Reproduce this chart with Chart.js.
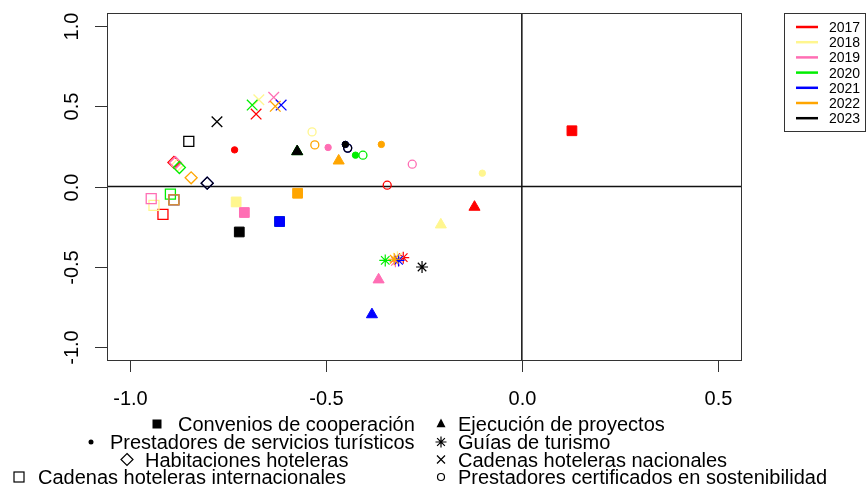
<!DOCTYPE html>
<html><head><meta charset="utf-8">
<script src="https://cdn.jsdelivr.net/npm/chart.js@4/dist/chart.umd.min.js"></script>
<style>html,body{margin:0;padding:0;background:#fff;overflow:hidden}#wrap{position:relative;width:866px;height:489px}</style>
</head><body><div id="wrap"><canvas id="c" width="866" height="489"></canvas></div>
<script>
// ---- data ----
const years = ['2017','2018','2019','2020','2021','2022','2023'];
const variables = ['Convenios de cooperación','Ejecución de proyectos','Prestadores de servicios turísticos','Guías de turismo','Habitaciones hoteleras','Cadenas hoteleras nacionales','Cadenas hoteleras internacionales','Prestadores certificados en sostenibilidad'];
// each: [x, y] per year 2017..2023
const convenios       = [[0.128,0.347],[-0.730,-0.096],[-0.709,-0.162],[-0.619,-0.218],[-0.619,-0.218],[-0.573,-0.042],[-0.722,-0.283]];
const ejecucion       = [[-0.121,-0.128],[-0.207,-0.238],[-0.366,-0.580],[-0.574,0.218],[-0.383,-0.797],[-0.468,0.160],[-0.574,0.218]];
const prestadores     = [[-0.734,0.228],[-0.101,0.083],[-0.495,0.243],[-0.425,0.195],[-0.451,0.262],[-0.359,0.262],[-0.451,0.262]];
const guias           = [[-0.303,-0.443],[-0.318,-0.440],[-0.323,-0.466],[-0.349,-0.460],[-0.315,-0.460],[-0.326,-0.453],[-0.255,-0.501]];
const habitaciones    = [[-0.889,0.150],[-0.880,0.133],[-0.885,0.148],[-0.875,0.118],[-0.804,0.021],[-0.845,0.054],[-0.804,0.021]];
const nacionales      = [[-0.679,0.451],[-0.672,0.540],[-0.634,0.555],[-0.689,0.507],[-0.615,0.507],[-0.630,0.499],[-0.779,0.403]];
const internacionales = [[-0.917,-0.173],[-0.940,-0.117],[-0.947,-0.075],[-0.898,-0.048],[-0.889,-0.083],[-0.889,-0.083],[-0.851,0.281]];
const certificados    = [[-0.344,0.008],[-0.536,0.340],[-0.280,0.139],[-0.406,0.195],[-0.445,0.239],[-0.529,0.259],[-0.445,0.239]];
const xTicks = [-1.0,-0.5,0.0,0.5];
const xTickLabels = ['-1.0','-0.5','0.0','0.5'];
const yTicks = [-1.0,-0.5,0.0,0.5,1.0];
const yTickLabels = ['-1.0','-0.5','0.0','0.5','1.0'];

// ---- styles ----
const yearColors = ['#FF0000','#FFF68F','#FF6EB4','#00EE00','#0000FF','#FFA500','#000000'];
const seriesByVar = [convenios, ejecucion, prestadores, guias, habitaciones, nacionales, internacionales, certificados];
const varStyle = [
  {ps:'rect', r:6.9, fill:true, bw:1},
  {ps:'triangle', r:6.4, fill:true, bw:1},
  {ps:'circle', r:3.2, fill:true, bw:1},
  {ps:'star', r:6, fill:false, bw:1.2},
  {ps:'rectRot', r:6, fill:false, bw:1.3},
  {ps:'crossRot', r:7.5, fill:false, bw:1.3},
  {ps:'rect', r:7.07, fill:false, bw:1.3},
  {ps:'circle', r:4, fill:false, bw:1.3}
];
const FONT = '"Liberation Sans", Arial, Helvetica, sans-serif';

const datasets = years.map((yr, yi) => ({
  label: yr,
  order: years.length - 1 - yi,
  data: seriesByVar.map(s => ({x: s[yi][0], y: s[yi][1]})),
  pointStyle: varStyle.map(v => v.ps),
  pointRadius: varStyle.map(v => v.r),
  pointBorderWidth: varStyle.map(v => v.bw),
  pointBackgroundColor: varStyle.map(v => v.fill ? yearColors[yi] : 'rgba(0,0,0,0)'),
  pointBorderColor: yearColors[yi],
  showLine: false
}));

function sym(ctx, kind, x, y, s, color) {
  ctx.save();
  ctx.strokeStyle = color; ctx.fillStyle = color; ctx.lineWidth = 1.2;
  ctx.beginPath();
  if (kind === 'fsquare') { ctx.fillRect(x - s/2, y - s/2, s, s); }
  else if (kind === 'ftri') { ctx.moveTo(x, y - s*0.6); ctx.lineTo(x + s/2, y + s*0.35); ctx.lineTo(x - s/2, y + s*0.35); ctx.closePath(); ctx.fill(); }
  else if (kind === 'dot') { ctx.arc(x, y, s/2, 0, Math.PI*2); ctx.fill(); }
  else if (kind === 'star') { const a = s/2, d = a*0.707; ctx.moveTo(x-a,y); ctx.lineTo(x+a,y); ctx.moveTo(x,y-a); ctx.lineTo(x,y+a); ctx.moveTo(x-d,y-d); ctx.lineTo(x+d,y+d); ctx.moveTo(x-d,y+d); ctx.lineTo(x+d,y-d); ctx.stroke(); }
  else if (kind === 'diamond') { const a = s/2; ctx.moveTo(x,y-a); ctx.lineTo(x+a,y); ctx.lineTo(x,y+a); ctx.lineTo(x-a,y); ctx.closePath(); ctx.stroke(); }
  else if (kind === 'cross') { const a = s/2; ctx.moveTo(x-a,y-a); ctx.lineTo(x+a,y+a); ctx.moveTo(x-a,y+a); ctx.lineTo(x+a,y-a); ctx.stroke(); }
  else if (kind === 'osquare') { ctx.strokeRect(x - s/2, y - s/2, s, s); }
  else if (kind === 'ocircle') { ctx.arc(x, y, s/2, 0, Math.PI*2); ctx.stroke(); }
  ctx.restore();
}

const legendSyms = [
  {k:'fsquare', s:9, sx:157, tx:178, row:0},
  {k:'ftri', s:9, sx:441, tx:458, row:0},
  {k:'dot', s:5, sx:91, tx:110, row:1},
  {k:'star', s:11, sx:441, tx:458, row:1},
  {k:'diamond', s:12, sx:127, tx:145, row:2},
  {k:'cross', s:8, sx:441, tx:458, row:2},
  {k:'osquare', s:10, sx:19, tx:38, row:3},
  {k:'ocircle', s:7, sx:441, tx:458, row:3}
];
const rowBaselines = [431, 449, 466.5, 484];

const decor = {
  id: 'decor',
  beforeDatasetsDraw(chart) {
    const {ctx, chartArea: a, scales: {x, y}} = chart;
    ctx.save();
    ctx.strokeStyle = '#111'; ctx.lineWidth = 1.5;
    const x0 = x.getPixelForValue(0), y0 = y.getPixelForValue(0);
    ctx.beginPath();
    ctx.moveTo(a.left, y0); ctx.lineTo(a.right, y0);
    ctx.moveTo(x0, a.top); ctx.lineTo(x0, a.bottom);
    ctx.stroke();
    ctx.restore();
  },
  afterDraw(chart) {
    const {ctx, chartArea: a, scales: {x, y}} = chart;
    ctx.save();
    // box
    ctx.strokeStyle = '#333'; ctx.lineWidth = 1;
    ctx.strokeRect(Math.round(a.left) + 0.5, Math.round(a.top) + 0.5, Math.round(a.right - a.left), Math.round(a.bottom - a.top));
    // x ticks
    ctx.fillStyle = '#000';
    ctx.font = '20px ' + FONT;
    ctx.textAlign = 'center'; ctx.textBaseline = 'alphabetic';
    xTicks.forEach((v, i) => {
      const px = Math.round(x.getPixelForValue(v)) + 0.5;
      ctx.beginPath(); ctx.moveTo(px, a.bottom); ctx.lineTo(px, a.bottom + 12); ctx.stroke();
      ctx.fillText(xTickLabels[i], px, 405);
    });
    // y ticks
    yTicks.forEach((v, i) => {
      const py = Math.round(y.getPixelForValue(v)) + 0.5;
      ctx.beginPath(); ctx.moveTo(a.left - 12, py); ctx.lineTo(a.left, py); ctx.stroke();
      ctx.save(); ctx.translate(78, py); ctx.rotate(-Math.PI/2);
      ctx.fillText(yTickLabels[i], 0, 0);
      ctx.restore();
    });
    // year legend
    ctx.strokeStyle = '#333'; ctx.lineWidth = 1;
    ctx.strokeRect(784.5, 13.5, 81, 118);
    ctx.font = '14px ' + FONT; ctx.textAlign = 'left';
    years.forEach((yr, i) => {
      const cy = 27 + i * 15.2;
      ctx.strokeStyle = yearColors[i]; ctx.lineWidth = 2.5;
      ctx.beginPath(); ctx.moveTo(796, cy); ctx.lineTo(818, cy); ctx.stroke();
      ctx.fillStyle = '#000';
      ctx.fillText(yr, 829, cy + 5);
    });
    // variable legend
    ctx.font = '20px ' + FONT; ctx.textAlign = 'left'; ctx.fillStyle = '#000';
    legendSyms.forEach((L, i) => {
      const bl = rowBaselines[L.row];
      sym(ctx, L.k, L.sx, bl - 7, L.s, '#000');
      ctx.fillStyle = '#000';
      ctx.fillText(variables[i], L.tx, bl);
    });
    ctx.restore();
  }
};

new Chart(document.getElementById('c'), {
  type: 'scatter',
  data: { datasets },
  options: {
    responsive: false,
    animation: false,
    devicePixelRatio: 1,
    events: [],
    layout: { padding: { left: 107, right: 125, top: 13, bottom: 129 } },
    scales: {
      x: { type: 'linear', min: -1.06, max: 0.56, display: false },
      y: { type: 'linear', min: -1.08, max: 1.08, display: false }
    },
    plugins: { legend: { display: false }, tooltip: { enabled: false } }
  },
  plugins: [decor]
});
</script></body></html>
